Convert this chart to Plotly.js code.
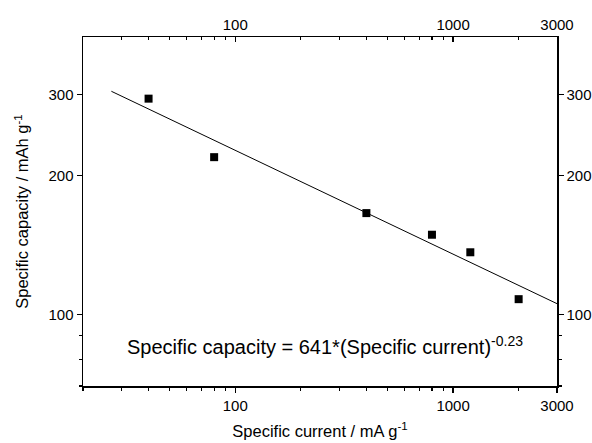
<!DOCTYPE html>
<html><head><meta charset="utf-8">
<script src="https://cdn.plot.ly/plotly-3.0.1.min.js"></script>
<style>body{margin:0;background:#fff}#chart{width:592px;height:443px}</style>
</head><body><div id="chart"></div>
<script>
const currents = [40, 80, 400, 800, 1200, 2000];
const capacities = [294, 219.5, 166, 149, 136.5, 108];
const fitX = [27, 3000];
const fitY = [305, 105.6];
const xMajorVals = [100, 1000, 3000];
const xMajorText = ['100', '1000', '3000'];
const xMinorVals = [20, 30, 40, 50, 60, 70, 80, 90, 200, 300, 400, 500, 600, 700, 800, 900, 2000];
const yMajorVals = [100, 200, 300];
const yMajorText = ['100', '200', '300'];
const yMinorVals = [70, 80, 90];
const xRange = [Math.log10(20), Math.log10(3000)];
const yRange = [Math.log10(70), Math.log10(400)];
const fnt = {family: "Arial, 'Liberation Sans', sans-serif", color: '#000'};

const traces = [
  {x: fitX, y: fitY, mode: 'lines', line: {color: '#000', width: 1}, showlegend: false, hoverinfo: 'skip'},
  {x: currents, y: capacities, mode: 'markers', marker: {symbol: 'square', size: 8, color: '#000'}, showlegend: false},
  {x: currents, y: capacities, xaxis: 'x2', yaxis: 'y2', mode: 'markers', marker: {opacity: 0}, showlegend: false, hoverinfo: 'skip'}
];
function ax(extra) {
  return Object.assign({
    type: 'log', showgrid: false, zeroline: false, showline: true, linecolor: '#000', linewidth: 1.5,
    ticks: 'outside', ticklen: 5, tickwidth: 1.3, tickcolor: '#000', tickmode: 'array',
    tickfont: Object.assign({size: 15}, fnt)
  }, extra);
}
const layout = {
  width: 592, height: 443, margin: {l: 83, r: 35, t: 37, b: 57},
  paper_bgcolor: '#fff', plot_bgcolor: '#fff', showlegend: false,
  xaxis: ax({range: xRange, tickvals: xMajorVals, ticktext: xMajorText,
    minor: {tickmode: 'array', tickvals: xMinorVals, ticks: 'outside', ticklen: 3, tickwidth: 1.1, tickcolor: '#000', showgrid: false},
    title: {text: 'Specific current / mA g<sup>-1</sup>', font: Object.assign({size: 16.5}, fnt), standoff: 13}}),
  yaxis: ax({range: yRange, tickvals: yMajorVals, ticktext: yMajorText,
    minor: {tickmode: 'array', tickvals: yMinorVals, ticks: 'outside', ticklen: 3, tickwidth: 1.1, tickcolor: '#000', showgrid: false},
    title: {text: 'Specific capacity / mAh g<sup>-1</sup>', font: Object.assign({size: 16.5}, fnt), standoff: 15}}),
  xaxis2: ax({range: xRange, overlaying: 'x', side: 'top', anchor: 'y', ticks: 'inside',
    tickvals: xMajorVals, ticktext: xMajorText,
    minor: {tickmode: 'array', tickvals: xMinorVals, ticks: 'inside', ticklen: 3, tickwidth: 1.1, tickcolor: '#000', showgrid: false}}),
  yaxis2: ax({range: yRange, overlaying: 'y', side: 'right', anchor: 'x',
    tickvals: yMajorVals, ticktext: yMajorText,
    minor: {tickmode: 'array', tickvals: yMinorVals, ticks: 'outside', ticklen: 3, tickwidth: 1.1, tickcolor: '#000', showgrid: false}}),
  annotations: [{
    xref: 'paper', yref: 'paper', x: 0.51, y: 0.115, xanchor: 'center', yanchor: 'middle', showarrow: false,
    text: 'Specific capacity = 641*(Specific current)<sup>-0.23</sup>', font: Object.assign({size: 20}, fnt)
  }]
};
Plotly.newPlot('chart', traces, layout, {displayModeBar: false, staticPlot: true});
</script></body></html>
